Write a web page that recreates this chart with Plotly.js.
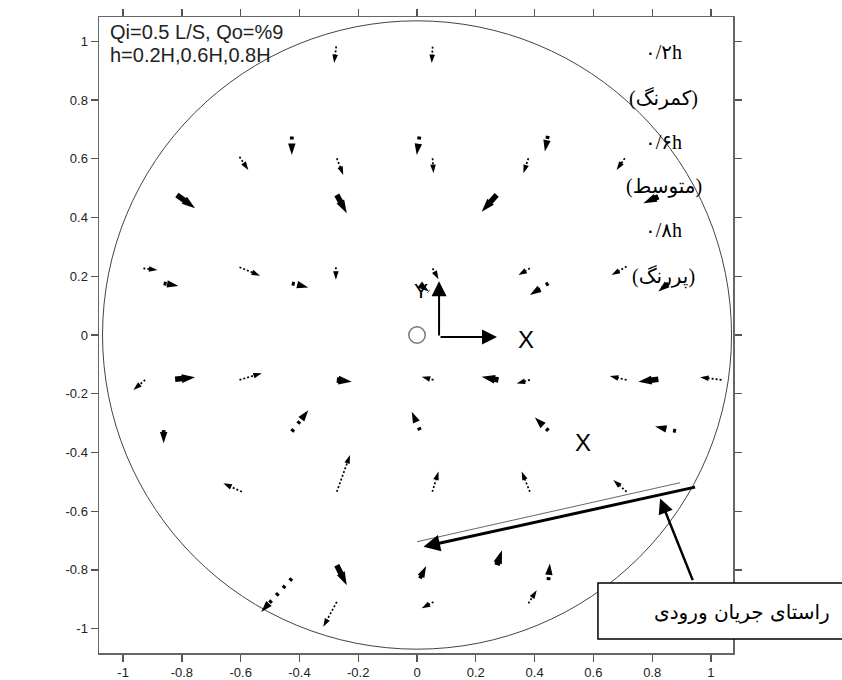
<!DOCTYPE html>
<html><head><meta charset="utf-8">
<script src="https://cdn.plot.ly/plotly-3.0.1.min.js"></script>
<style>html,body{margin:0;padding:0;background:#fff}#chart{width:842px;height:680px}</style>
</head><body><div id="chart"></div>
<script>
// ---- axis ticks ----
const tickVals = [-1,-0.8,-0.6,-0.4,-0.2,0,0.2,0.4,0.6,0.8,1];
const tickText = ['-1','-0.8','-0.6','-0.4','-0.2','0','0.2','0.4','0.6','0.8','1'];

// ---- 0.2h (light, dotted) : tail (x0,y0) -> head (x1,y1) ----
const lightX0 = [-0.275,0.053,-0.604,-0.273,0.053,0.379,0.707,-0.931,-0.604,-0.276,0.053,0.384,0.713,-0.925,-0.604,0.056,0.384,0.713,1.036,-0.596,-0.273,0.052,0.384,0.713,-0.273,0.056,0.379];
const lightY0 = [0.983,0.982,0.607,0.602,0.602,0.602,0.602,0.227,0.231,0.231,0.227,0.227,0.233,-0.153,-0.153,-0.153,-0.153,-0.153,-0.153,-0.534,-0.534,-0.534,-0.534,-0.534,-0.909,-0.909,-0.914];
const lightX1 = [-0.282,0.050,-0.574,-0.251,0.056,0.362,0.679,-0.883,-0.534,-0.276,0.073,0.345,0.662,-0.965,-0.528,0.016,0.339,0.656,0.963,-0.659,-0.228,0.073,0.356,0.668,-0.319,0.016,0.407];
const lightY1 = [0.926,0.926,0.562,0.545,0.551,0.551,0.562,0.221,0.202,0.188,0.190,0.204,0.204,-0.187,-0.130,-0.142,-0.165,-0.140,-0.144,-0.505,-0.409,-0.465,-0.465,-0.494,-0.994,-0.931,-0.869];

// ---- 0.6h (medium, dot-dash) ----
const medX0 = [-0.426,0.008,0.445,-0.862,-0.426,0.012,0.447,0.855,-0.862,-0.426,0.010,0.447,0.881,-0.426,0.010,0.447];
const medY0 = [0.676,0.676,0.678,0.176,0.176,0.170,0.176,0.176,-0.324,-0.329,-0.324,-0.326,-0.327,-0.829,-0.829,-0.835];
const medX1 = [-0.426,-0.001,0.435,-0.812,-0.370,0.040,0.384,0.821,-0.862,-0.370,-0.018,0.401,0.810,-0.530,0.031,0.452];
const medY1 = [0.613,0.613,0.625,0.167,0.162,0.148,0.136,0.148,-0.369,-0.256,-0.261,-0.281,-0.312,-0.943,-0.787,-0.778];

// ---- 0.8h (dark, thick solid) ----
const darkX0 = [-0.817,-0.273,0.271,0.821,-0.823,-0.273,0.277,0.821,-0.273,0.272];
const darkY0 = [0.477,0.477,0.477,0.471,-0.151,-0.153,-0.153,-0.151,-0.784,-0.784];
const darkX1 = [-0.755,-0.239,0.220,0.770,-0.755,-0.222,0.220,0.753,-0.239,0.289];
const darkY1 = [0.432,0.415,0.420,0.449,-0.144,-0.159,-0.142,-0.159,-0.852,-0.733];

// ---- reference drawing elements (data coordinates) ----
const outerRadius = 1.07;
const originRadius = 0.028;
const axisArrowOrigin = [0.075, -0.007];
const axisArrowXTip = [0.272, -0.007];
const axisArrowYTip = [0.075, 0.183];
const inflowThin = [0.0, -0.704, 0.895, -0.503];
const inflowArrow = [0.951, -0.517, 0.022, -0.721];
const pointerArrow = [0.94, -0.84, 0.827, -0.557];

const legendLabels = ['۰/۲h','(کمرنگ)','۰/۶h','(متوسط)','۰/۸h','(پررنگ)'];
const legendY = [0.965,0.808,0.659,0.505,0.358,0.199];

function arrowTrace(x0,y0,x1,y1,st){
  const x=[],y=[],sym=[],sz=[];
  for(let i=0;i<x0.length;i++){
    x.push(x0[i],x1[i],null); y.push(y0[i],y1[i],null);
    sym.push('circle',st.symbol,'circle'); sz.push(0,st.head,0);
  }
  return {type:'scatter',mode:'lines+markers',x:x,y:y,connectgaps:false,
    line:{color:'#000',width:st.w,dash:st.dash},
    marker:{symbol:sym,size:sz,color:'#000',opacity:1,angleref:'previous',line:{width:0}},
    hoverinfo:'skip',showlegend:false,cliponaxis:false};
}

const traces = [
  arrowTrace(lightX0,lightY0,lightX1,lightY1,{w:1.7,dash:'2px,2px',head:9,symbol:'arrow'}),
  arrowTrace(medX0,medY0,medX1,medY1,{w:3.8,dash:'3px,7px',head:12,symbol:'arrow'}),
  arrowTrace(darkX0,darkY0,darkX1,darkY1,{w:5.5,dash:'solid',head:14,symbol:'arrow'})
];

const axisFont = {family:'Liberation Sans, Arial, sans-serif',size:13,color:'#222'};
const axCommon = {tickvals:tickVals,ticktext:tickText,ticks:'outside',ticklen:7,tickwidth:1.3,tickcolor:'#555',
  showline:true,linecolor:'#666',linewidth:1.5,mirror:'ticks',showgrid:false,zeroline:false,tickfont:axisFont,fixedrange:true};

const shapes = [
  {type:'circle',xref:'x',yref:'y',x0:-outerRadius,x1:outerRadius,y0:-outerRadius,y1:outerRadius,line:{color:'#444',width:1},layer:'below'},
  {type:'circle',xref:'x',yref:'y',x0:-originRadius,x1:originRadius,y0:-originRadius,y1:originRadius,line:{color:'#777',width:1.5}},
  {type:'line',xref:'x',yref:'y',x0:inflowThin[0],y0:inflowThin[1],x1:inflowThin[2],y1:inflowThin[3],line:{color:'#666',width:1}},
  {type:'rect',xref:'paper',yref:'paper',x0:0.787,x1:1.2,y0:0.022,y1:0.110,line:{color:'#000',width:1.5},fillcolor:'#fff',layer:'above'}
];

function arrowAnn(tx,ty,hx,hy,w,size){
  return {xref:'x',yref:'y',axref:'x',ayref:'y',x:hx,y:hy,ax:tx,ay:ty,text:'',showarrow:true,
    arrowhead:2,arrowsize:size,arrowwidth:w,arrowcolor:'#000'};
}

const annotations = [
  arrowAnn(axisArrowOrigin[0],axisArrowOrigin[1],axisArrowXTip[0],axisArrowXTip[1],2,1.5),
  arrowAnn(axisArrowOrigin[0],axisArrowOrigin[1],axisArrowYTip[0],axisArrowYTip[1],2,1.5),
  arrowAnn(inflowArrow[0],inflowArrow[1],inflowArrow[2],inflowArrow[3],3,1.1),
  arrowAnn(pointerArrow[0],pointerArrow[1],pointerArrow[2],pointerArrow[3],2.5,1.2),
  {xref:'x',yref:'y',x:0.371,y:-0.014,text:'X',showarrow:false,font:{family:'Liberation Sans, Arial',size:24,color:'#000'}},
  {xref:'x',yref:'y',x:0.565,y:-0.365,text:'X',showarrow:false,font:{family:'Liberation Sans, Arial',size:24,color:'#000'}},
  {xref:'x',yref:'y',x:0.014,y:0.153,text:'Y',showarrow:false,font:{family:'Liberation Sans, Arial',size:21,color:'#000'}},
  {xref:'paper',yref:'paper',x:0.014,y:0.976,xanchor:'left',yanchor:'middle',text:'Qi=0.5 L/S, Qo=%9',showarrow:false,font:{family:'Liberation Sans, Arial',size:20,color:'#222'}},
  {xref:'paper',yref:'paper',x:0.014,y:0.940,xanchor:'left',yanchor:'middle',text:'h=0.2H,0.6H,0.8H',showarrow:false,font:{family:'Liberation Sans, Arial',size:20,color:'#222'}},
  {xref:'paper',yref:'paper',x:1.014,y:0.0645,xanchor:'center',yanchor:'middle',text:'راستای جریان ورودی',showarrow:false,font:{family:'DejaVu Sans, sans-serif',size:20,color:'#000'}}
];
legendLabels.forEach((t,i)=>annotations.push({xref:'x',yref:'y',x:0.84,y:legendY[i],xanchor:'center',yanchor:'middle',text:t,showarrow:false,
  font:{family:'Liberation Serif, DejaVu Serif, DejaVu Sans, serif',size:20,color:'#000'}}));

const layout = {
  width:842,height:680,margin:{l:99,r:109,t:17,b:27},paper_bgcolor:'#fff',plot_bgcolor:'#fff',
  xaxis:Object.assign({range:[-1.082,1.075]},axCommon),
  yaxis:Object.assign({range:[-1.083,1.083]},axCommon),
  shapes:shapes,annotations:annotations,showlegend:false
};
Plotly.newPlot('chart',traces,layout,{displayModeBar:false,staticPlot:true});
</script></body></html>
